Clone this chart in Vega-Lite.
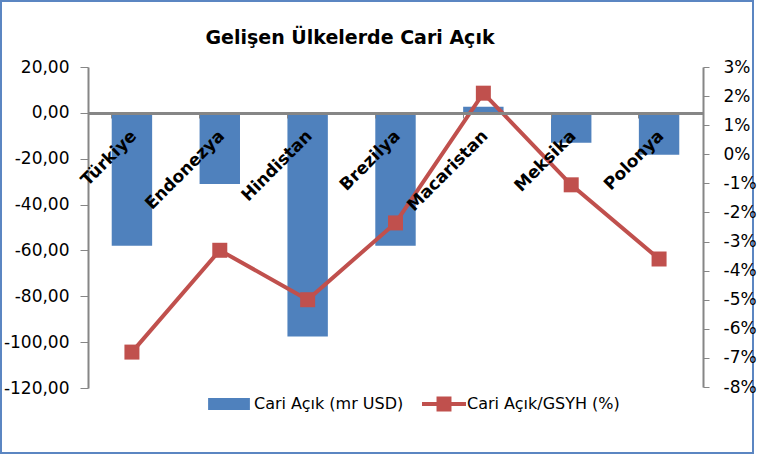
{
  "$schema": "https://vega.github.io/schema/vega-lite/v6.json",
  "width": 752,
  "height": 452,
  "autosize": {"type": "none"},
  "padding": {"left": 1, "top": 1, "right": 5, "bottom": 2},
  "background": "white",
  "config": {"view": {"stroke": "#5B86C2", "strokeWidth": 2}, "font": "DejaVu Sans"},
  "title": {
    "text": "Gelişen Ülkelerde Cari Açık",
    "frame": "group",
    "anchor": "middle",
    "offset": -62,
    "baseline": "alphabetic",
    "dx": -27,
    "font": "DejaVu Sans",
    "fontSize": 19,
    "fontWeight": "bold",
    "color": "black"
  },
  "data": {
    "values": [
      {"ulke": "Türkiye", "seri": "Cari Açık (mr USD)", "deger": -58},
      {"ulke": "Endonezya", "seri": "Cari Açık (mr USD)", "deger": -31},
      {"ulke": "Hindistan", "seri": "Cari Açık (mr USD)", "deger": -97.5},
      {"ulke": "Brezilya", "seri": "Cari Açık (mr USD)", "deger": -58},
      {"ulke": "Macaristan", "seri": "Cari Açık (mr USD)", "deger": 2.7},
      {"ulke": "Meksika", "seri": "Cari Açık (mr USD)", "deger": -13},
      {"ulke": "Polonya", "seri": "Cari Açık (mr USD)", "deger": -18.3},
      {"ulke": "Türkiye", "seri": "Cari Açık/GSYH (%)", "deger": -6.8},
      {"ulke": "Endonezya", "seri": "Cari Açık/GSYH (%)", "deger": -3.3},
      {"ulke": "Hindistan", "seri": "Cari Açık/GSYH (%)", "deger": -5.0},
      {"ulke": "Brezilya", "seri": "Cari Açık/GSYH (%)", "deger": -2.36},
      {"ulke": "Macaristan", "seri": "Cari Açık/GSYH (%)", "deger": 2.1},
      {"ulke": "Meksika", "seri": "Cari Açık/GSYH (%)", "deger": -1.05},
      {"ulke": "Polonya", "seri": "Cari Açık/GSYH (%)", "deger": -3.6}
    ]
  },
  "layer": [
    {
      "transform": [{"filter": "datum.seri === 'Cari Açık (mr USD)'"}],
      "mark": {"type": "bar", "color": "#4F81BD"},
      "encoding": {
        "x": {
          "field": "ulke", "type": "nominal", "sort": null,
          "scale": {"range": [87, 702], "paddingInner": 0.54, "paddingOuter": 0.27},
          "axis": {
            "title": null, "orient": "bottom", "offset": -340,
            "labelAngle": -45, "labelAlign": "right", "labelBaseline": "middle",
            "labelFont": "DejaVu Sans", "labelFontSize": 17, "labelFontWeight": "bold",
            "labelColor": "black", "labelPadding": 15, "labelOffset": 2,
            "labelOverlap": false, "labelBound": false, "labelFlush": false,
            "tickSize": 5, "tickColor": "#868686", "tickWidth": 1, "bandPosition": 0,
            "domainColor": "#868686", "domainWidth": 3, "zindex": 1
          }
        },
        "y": {
          "field": "deger", "type": "quantitative", "stack": null,
          "scale": {"domain": [-120, 20], "range": [387, 66], "nice": false, "zero": false},
          "axis": {
            "title": null, "orient": "left", "offset": -87,
            "values": [-120, -100, -80, -60, -40, -20, 0, 20],
            "labelExpr": "replace(replace(format(datum.value, '.2f'), '.', ','), '\u2212', '-')",
            "labelFont": "DejaVu Sans", "labelFontSize": 17, "labelColor": "black",
            "labelPadding": 11, "tickSize": 8, "tickColor": "#868686", "tickWidth": 1,
            "domainColor": "#868686", "domainWidth": 2, "grid": false
          }
        },
        "color": {
          "field": "seri", "type": "nominal",
          "scale": {"domain": ["Cari Açık (mr USD)"], "range": ["#4F81BD"]},
          "legend": {
            "title": null, "orient": "none", "legendX": 206, "legendY": 381,
            "direction": "horizontal", "padding": 0,
            "symbolType": "M-0.95,-0.27H0.95V0.27H-0.95Z", "symbolSize": 1936,
            "symbolStrokeWidth": 0, "symbolOpacity": 1,
            "labelFont": "DejaVu Sans", "labelFontSize": 16, "labelColor": "black",
            "labelOffset": 3, "labelLimit": 300
          }
        }
      }
    },
    {
      "transform": [{"filter": "datum.seri === 'Cari Açık/GSYH (%)'"}],
      "layer": [
        {
          "mark": {"type": "line", "color": "#C0504D", "strokeWidth": 4},
          "encoding": {
            "x": {"field": "ulke", "type": "nominal", "sort": null},
            "y": {
              "field": "deger", "type": "quantitative",
              "scale": {"domain": [-8, 3], "range": [386, 66], "nice": false, "zero": false},
              "axis": {
                "title": null, "orient": "right", "offset": -50,
                "values": [-8, -7, -6, -5, -4, -3, -2, -1, 0, 1, 2, 3],
                "labelExpr": "replace(format(datum.value, 'd'), '\u2212', '-') + '%'",
                "labelFont": "DejaVu Sans", "labelFontSize": 17, "labelColor": "black",
                "labelPadding": 14, "tickSize": 6, "tickColor": "#868686", "tickWidth": 1,
                "domainColor": "#868686", "domainWidth": 2, "grid": false
              }
            }
          }
        },
        {
          "mark": {"type": "point", "shape": "square", "size": 225, "filled": true, "opacity": 1, "color": "#C0504D"},
          "encoding": {
            "x": {"field": "ulke", "type": "nominal", "sort": null},
            "y": {"field": "deger", "type": "quantitative"},
            "fill": {
              "field": "seri", "type": "nominal",
              "scale": {"domain": ["Cari Açık/GSYH (%)"], "range": ["#C0504D"]},
              "legend": {
                "title": null, "orient": "none", "legendX": 421, "legendY": 381,
                "direction": "horizontal", "padding": 0,
                "symbolType": "M-1,-0.09H1V0.09H-1Z M-0.34,-0.34H0.34V0.34H-0.34Z", "symbolSize": 1936,
                "symbolStrokeWidth": 0, "symbolOpacity": 1,
                "labelFont": "DejaVu Sans", "labelFontSize": 16, "labelColor": "black",
                "labelOffset": 1, "labelLimit": 300
              }
            }
          }
        }
      ]
    }
  ],
  "resolve": {"scale": {"y": "independent"}}
}
